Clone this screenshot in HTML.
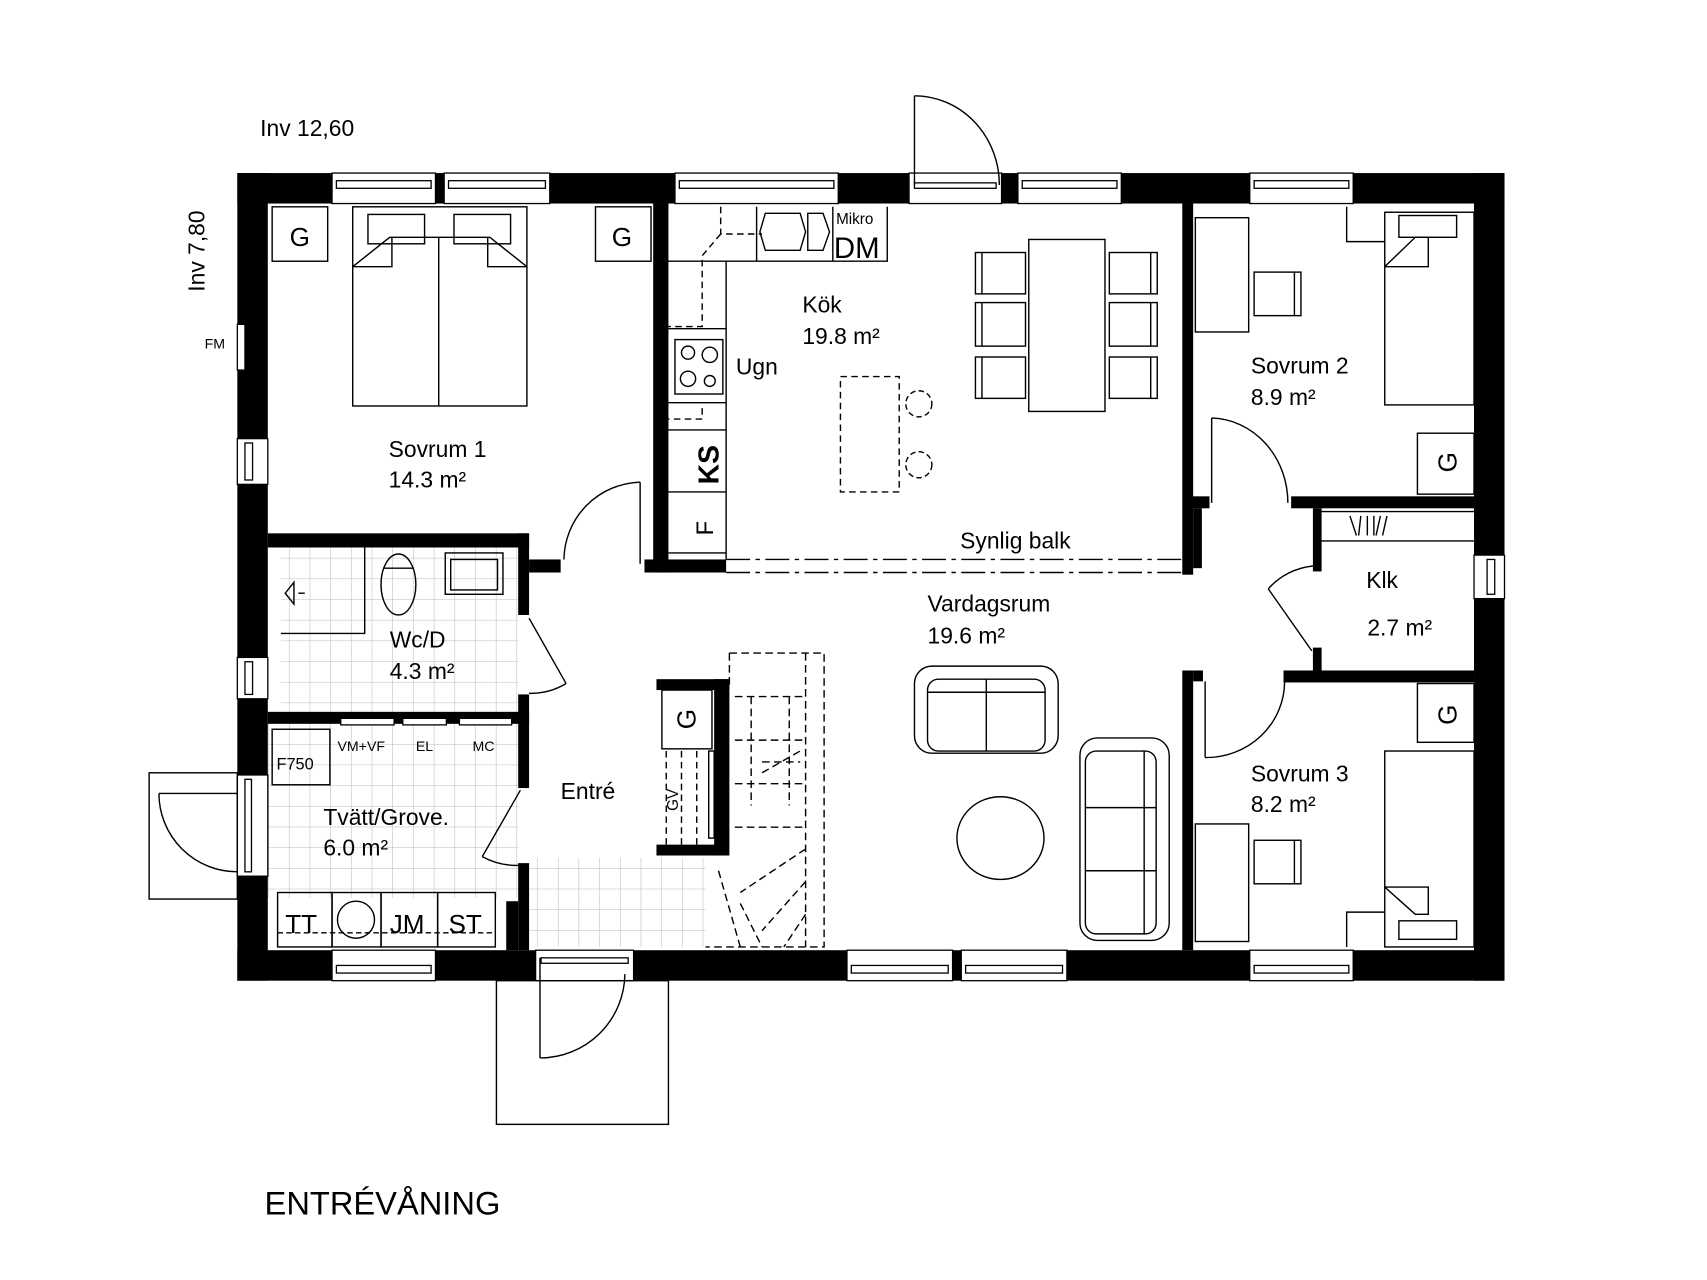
<!DOCTYPE html>
<html><head><meta charset="utf-8"><style>
html,body{margin:0;padding:0;background:#fff}
svg{display:block}
text{font-family:"Liberation Sans",sans-serif;fill:#000}
</style></head><body>
<svg width="1707" height="1280" viewBox="0 0 1568 1176" preserveAspectRatio="none" xmlns="http://www.w3.org/2000/svg">
<defs>
<pattern id="tile" width="19" height="19" patternUnits="userSpaceOnUse"><path d="M19 0V19M0 19H19" stroke="#bbb" stroke-width="1" fill="none"/></pattern>
</defs>
<rect width="1568" height="1176" fill="#fff"/>

<!-- tiled floors -->
<rect x="258" y="503" width="218" height="151" fill="url(#tile)"/>
<rect x="246" y="665" width="230" height="160" fill="url(#tile)"/>
<rect x="486" y="788" width="162" height="82" fill="url(#tile)"/>

<!-- outer walls -->
<g fill="#000">
<rect x="218" y="159" width="1164" height="28"/>
<rect x="218" y="873" width="1164" height="28"/>
<rect x="218" y="159" width="28" height="742"/>
<rect x="1354" y="159" width="28" height="742"/>
<!-- interior walls -->
<rect x="600" y="187" width="14" height="339"/>
<rect x="592" y="514" width="75" height="12"/>
<rect x="246" y="490" width="240" height="13"/>
<rect x="476" y="490" width="10" height="75"/>
<rect x="486" y="514" width="29" height="12"/>
<rect x="476" y="638" width="10" height="86"/>
<rect x="246" y="654" width="240" height="11"/>
<rect x="476" y="793" width="10" height="80"/>
<rect x="465" y="828" width="11" height="45"/>
<rect x="603" y="624" width="67" height="10"/>
<rect x="656" y="624" width="14" height="162"/>
<rect x="603" y="776" width="60" height="10"/>
<rect x="1086" y="187" width="10" height="341"/>
<rect x="1095" y="456" width="16" height="11"/>
<rect x="1186" y="456" width="168" height="11"/>
<rect x="1096" y="467" width="8" height="55"/>
<rect x="1206" y="467" width="8" height="58"/>
<rect x="1206" y="595" width="8" height="21"/>
<rect x="1179" y="616" width="175" height="11"/>
<rect x="1086" y="616" width="10" height="257"/>
<rect x="1096" y="616" width="9" height="10"/>
</g>

<!-- windows -->
<g fill="#fff" stroke="#000" stroke-width="1.2">
<rect x="305" y="159" width="95" height="28"/><rect x="309" y="166" width="87" height="7"/>
<rect x="408" y="159" width="97" height="28"/><rect x="412" y="166" width="89" height="7"/>
<rect x="620" y="159" width="150" height="28"/><rect x="624" y="166" width="142" height="7"/>
<rect x="835" y="159" width="85" height="28"/><rect x="840" y="168" width="75" height="5"/>
<rect x="935" y="159" width="95" height="28"/><rect x="939" y="166" width="87" height="7"/>
<rect x="1148" y="159" width="95" height="28"/><rect x="1152" y="166" width="87" height="7"/>
<rect x="305" y="873" width="95" height="28"/><rect x="309" y="887" width="87" height="7"/>
<rect x="492" y="873" width="90" height="28"/><rect x="497" y="880" width="80" height="5"/>
<rect x="778" y="873" width="97" height="28"/><rect x="782" y="887" width="89" height="7"/>
<rect x="883" y="873" width="97" height="28"/><rect x="887" y="887" width="89" height="7"/>
<rect x="1148" y="873" width="95" height="28"/><rect x="1152" y="887" width="87" height="7"/>
<rect x="218" y="403" width="28" height="42"/><rect x="225" y="407" width="7" height="34"/>
<rect x="218" y="604" width="28" height="38"/><rect x="225" y="608" width="7" height="30"/>
<rect x="218" y="712" width="28" height="93"/><rect x="225" y="716" width="6" height="85"/>
<rect x="218" y="298" width="7" height="42"/>
<rect x="1354" y="510" width="28" height="40"/><rect x="1366" y="514" width="7" height="32"/>
<!-- laundry slots -->
<rect x="313" y="660" width="49" height="6"/><rect x="370" y="660" width="40" height="6"/><rect x="422" y="660" width="48" height="6"/>
</g>

<!-- doors -->
<g fill="none" stroke="#000" stroke-width="1.3">
<path d="M840 88V170"/><path d="M840 88A78 82 0 0 1 918 170"/>
<rect x="137" y="710" width="81" height="116"/>
<path d="M146 729H218"/><path d="M146 729A72 72 0 0 0 218 801"/>
<rect x="456" y="901" width="158" height="132"/>
<path d="M496 880V972"/><path d="M496 972A78 78 0 0 0 574 895"/>
<path d="M588 443V518"/><path d="M588 443A72 72 0 0 0 518 514"/>
<path d="M486 568L520 628"/><path d="M520 628A62 62 0 0 1 486 637"/>
<path d="M478 726L443 787"/><path d="M443 787A66 66 0 0 0 478 795"/>
<path d="M1113 384V462"/><path d="M1113 384A72 78 0 0 1 1183 462"/>
<path d="M1107 696V626"/><path d="M1107 696A72 70 0 0 0 1180 626"/>
<path d="M1205 598L1165 541"/><path d="M1165 541A62 60 0 0 1 1206 520"/>
</g>

<!-- furniture -->
<g fill="none" stroke="#000" stroke-width="1.3">
<!-- Sovrum 1 -->
<rect x="250" y="190" width="51" height="50"/><rect x="547" y="190" width="51" height="50"/>
<rect x="324" y="190" width="160" height="183"/><path d="M403 218V373M324 245L358 218H450L484 245M360 218V245H324M448 218V245H484"/>
<rect x="338" y="197" width="52" height="27"/><rect x="417" y="197" width="52" height="27"/>
<!-- Kitchen -->
<path d="M614 240H815V190M695 190V240M765 190V240M667 240V514M614 302H667M614 370H667M614 395H667M614 452H667M614 508H667"/>
<rect x="620" y="312" width="44" height="50"/>
<circle cx="632" cy="324" r="6"/><circle cx="652" cy="326" r="7"/><circle cx="632" cy="348" r="7"/><circle cx="652" cy="350" r="5"/>
<path d="M703 196H735L740 213L735 230H703L698 213Z"/><path d="M742 196H756L762 213L756 230H742Z"/>
<path d="M662 190V215H700M662 215L645 235V300H614M645 375V385H614" stroke-dasharray="6 4"/>
<rect x="772" y="346" width="54" height="106" stroke-dasharray="6 4"/>
<circle cx="844" cy="371" r="12" stroke-dasharray="5 3"/><circle cx="844" cy="427" r="12" stroke-dasharray="5 3"/>
<rect x="945" y="220" width="70" height="158"/>
<rect x="896" y="232" width="46" height="38"/><rect x="896" y="278" width="46" height="40"/><rect x="896" y="328" width="46" height="38"/>
<rect x="1019" y="232" width="44" height="38"/><rect x="1019" y="278" width="44" height="40"/><rect x="1019" y="328" width="44" height="38"/>
<path d="M902 232V270M902 278V318M902 328V366M1057 232V270M1057 278V318M1057 328V366"/>
<path d="M667 514H1090M667 526H1090" stroke-dasharray="22 5 4 5"/>
<!-- Sovrum 2 -->
<rect x="1098" y="200" width="49" height="105"/><rect x="1152" y="250" width="43" height="40"/><path d="M1189 250V290"/>
<rect x="1272" y="195" width="82" height="177"/><rect x="1285" y="198" width="53" height="20"/><path d="M1272 245L1300 218H1312V245H1272M1237 190V222H1272"/>
<rect x="1302" y="398" width="52" height="56"/>
<!-- Sovrum 3 -->
<rect x="1098" y="757" width="49" height="108"/><rect x="1152" y="772" width="43" height="40"/><path d="M1189 772V812"/>
<rect x="1272" y="690" width="82" height="180"/><rect x="1285" y="846" width="53" height="17"/><path d="M1272 815L1300 840H1312V815H1272M1237 870V838H1272"/>
<rect x="1302" y="628" width="52" height="54"/>
<!-- Klk -->
<path d="M1214 470H1354M1214 497H1354"/>
<path d="M1240 474L1246 492M1250 474L1248 492M1256 474V492M1262 474V492M1268 474L1264 492M1274 474L1270 492"/>
<!-- Living -->
<rect x="840" y="612" width="132" height="80" rx="16"/><rect x="852" y="624" width="108" height="66" rx="10"/><path d="M852 636H960M906 624V690"/>
<rect x="992" y="678" width="82" height="186" rx="16"/><rect x="997" y="690" width="65" height="168" rx="10"/><path d="M1051 690V858M997 742H1062M997 800H1062"/>
<ellipse cx="919" cy="770" rx="40" ry="38"/>
<!-- Bath -->
<ellipse cx="366" cy="537" rx="16" ry="28"/><path d="M352 522H380"/>
<rect x="409" y="508" width="53" height="38"/><rect x="414" y="514" width="43" height="28"/>
<path d="M335 503V582H258"/><path d="M270 535L262 545L270 555ZM274 545H280"/>
<!-- Laundry -->
<rect x="250" y="670" width="53" height="51"/>
<rect x="255" y="820" width="50" height="50"/><rect x="305" y="820" width="45" height="50"/><rect x="350" y="820" width="52" height="50"/><rect x="402" y="820" width="53" height="50"/>
<circle cx="327" cy="845" r="17"/><path d="M255 857H455" stroke-dasharray="5 3"/>
<!-- Fireplace / stairs -->
<rect x="608" y="634" width="46" height="54"/>
<rect x="651" y="690" width="5" height="80"/>
<path d="M612 690V780M626 690V780M640 690V780" stroke-dasharray="6 4"/>
<path d="M670 600H757V870H648M670 600V630M740 600V870M675 640H740M675 680H740M675 720H740M675 760H740M690 640V740M725 640V740M700 710L735 690M700 700H735M740 780L680 820M740 810L700 855M680 830L700 870M660 800L680 870M740 840L720 870" stroke-dasharray="7 4"/>
</g>

<!-- text -->
<g font-size="21">
<text x="239" y="125">Inv 12,60</text>
<text transform="translate(188,268) rotate(-90)">Inv 7,80</text>
<text x="188" y="320" font-size="13">FM</text>
<text x="243" y="1116" font-size="30">ENTRÉVÅNING</text>
<text x="357" y="420">Sovrum 1</text><text x="357" y="448">14.3 m²</text>
<text x="737" y="287">Kök</text><text x="737" y="316">19.8 m²</text>
<text x="676" y="344">Ugn</text>
<text x="768" y="206" font-size="14">Mikro</text>
<text x="766" y="237" font-size="27">DM</text>
<text transform="translate(660,445) rotate(-90)" font-size="26" font-weight="bold">KS</text>
<text transform="translate(655,492) rotate(-90)" font-size="22">F</text>
<text x="882" y="504">Synlig balk</text>
<text x="852" y="562">Vardagsrum</text><text x="852" y="591">19.6 m²</text>
<text x="1149" y="343">Sovrum 2</text><text x="1149" y="372">8.9 m²</text>
<text x="1255" y="540">Klk</text><text x="1256" y="584">2.7 m²</text>
<text x="1149" y="718">Sovrum 3</text><text x="1149" y="746">8.2 m²</text>
<text x="358" y="595">Wc/D</text><text x="358" y="624">4.3 m²</text>
<text x="297" y="758">Tvätt/Grove.</text><text x="297" y="786">6.0 m²</text>
<text x="515" y="734">Entré</text>
<text x="254" y="707" font-size="15">F750</text>
<text x="310" y="690" font-size="13">VM+VF</text>
<text x="382" y="690" font-size="13">EL</text>
<text x="434" y="690" font-size="13">MC</text>
<text x="262" y="857" font-size="24">TT</text>
<text x="358" y="857" font-size="24">JM</text>
<text x="412" y="857" font-size="24">ST</text>
<text transform="translate(623,745) rotate(-90)" font-size="14">GV</text>
<text x="266" y="226" font-size="24">G</text>
<text x="562" y="226" font-size="24">G</text>
<text transform="translate(1338,434) rotate(-90)" font-size="24">G</text>
<text transform="translate(1338,666) rotate(-90)" font-size="24">G</text>
<text transform="translate(639,670) rotate(-90)" font-size="24">G</text>
</g>
</svg>
</body></html>
